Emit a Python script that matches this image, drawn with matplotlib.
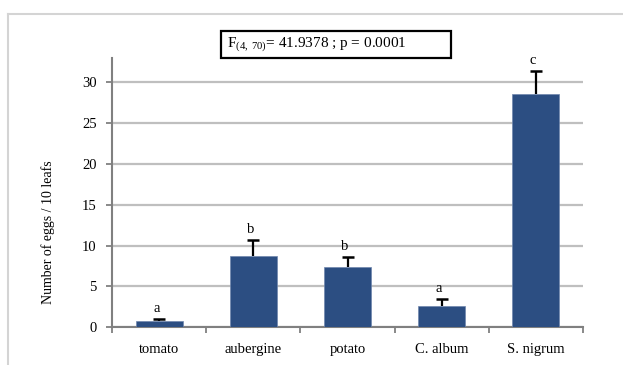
import numpy as np
import matplotlib
matplotlib.use("Agg")
import matplotlib.pyplot as plt
from matplotlib.lines import Line2D
from matplotlib.patches import Rectangle

# data
categories = ["tomato", "aubergine", "potato", "C. album", "S. nigrum"]
means = [0.8, 8.7, 7.4, 2.6, 28.6]
errors = [0.2, 2.0, 1.15, 0.85, 2.8]
groups = ["a", "b", "b", "a", "c"]
stat_text = r"F$_{\mathrm{(4,\,70)}}$= 41.9378 ; p = 0.0001"
ylabel = "Number of eggs / 10 leafs"

BAR_COLOR = "#2c4e82"
SERIF = "Liberation Serif"

plt.rcParams["font.family"] = SERIF
plt.rcParams["mathtext.fontset"] = "custom"
plt.rcParams["mathtext.rm"] = SERIF

W, H = 623, 365
fig = plt.figure(figsize=(W / 100, H / 100), dpi=100)

# outer light frame (top + left only visible)
x0, ytop = 8 / W, 1 - 14 / H
fig.add_artist(Line2D([x0, 1], [ytop, ytop], transform=fig.transFigure,
                      color="#d4d4d4", lw=1.5))
fig.add_artist(Line2D([x0, x0], [0, ytop], transform=fig.transFigure,
                      color="#d4d4d4", lw=1.5))

ax = fig.add_axes([112 / W, 1 - 327.3 / H, (583 - 112) / W, (327.3 - 57.8) / H])

x = np.arange(len(categories))
ax.bar(x, means, width=0.5, color=BAR_COLOR, edgecolor="#6f86ad", linewidth=0.5,
       zorder=3)
# upper error bars only
eb = ax.errorbar(x, means, yerr=[np.zeros(len(errors)), errors], fmt="none",
                 ecolor="black", elinewidth=1.6, capsize=4.5, capthick=1.8, zorder=4)
eb[1][0].set_visible(False)

for xi, m, e, g in zip(x, means, errors, groups):
    ax.annotate(g, (xi, m + e), xytext=(-2, 3), textcoords="offset points",
                ha="center", va="bottom", fontsize=10.5)

ax.set_xlim(-0.5, len(categories) - 0.5)
ax.set_ylim(0, 33)
ax.set_yticks(np.arange(0, 31, 5))
ax.yaxis.grid(True, color="#bfbfbf", lw=1.6, zorder=0)
ax.set_axisbelow(True)

ax.set_xticks(x)
ax.set_xticklabels(categories, fontsize=10.5)
ax.set_xticks(np.arange(-0.5, len(categories)), minor=True)
ax.tick_params(axis="x", which="major", length=0, pad=11)
ax.tick_params(axis="x", which="minor", length=4, width=1.3, color="#808080")
ax.tick_params(axis="y", length=4, width=1.3, color="#808080", pad=7, labelsize=10.5)

for side in ["top", "right"]:
    ax.spines[side].set_visible(False)
for side in ["left", "bottom"]:
    ax.spines[side].set_color("#808080")
    ax.spines[side].set_linewidth(1.5)

fig.text(48 / W, 1 - 232 / H, ylabel, rotation=90, ha="center", va="center",
         fontsize=10)

# statistics box
fig.add_artist(Rectangle((221 / W, 1 - 58 / H), (451 - 221) / W, (58 - 31) / H,
                         transform=fig.transFigure, fill=False,
                         edgecolor="black", lw=1.6))
fig.text(227 / W, 1 - 44.5 / H, stat_text, ha="left", va="center", fontsize=11)

fig.savefig("out.png", dpi=100)
